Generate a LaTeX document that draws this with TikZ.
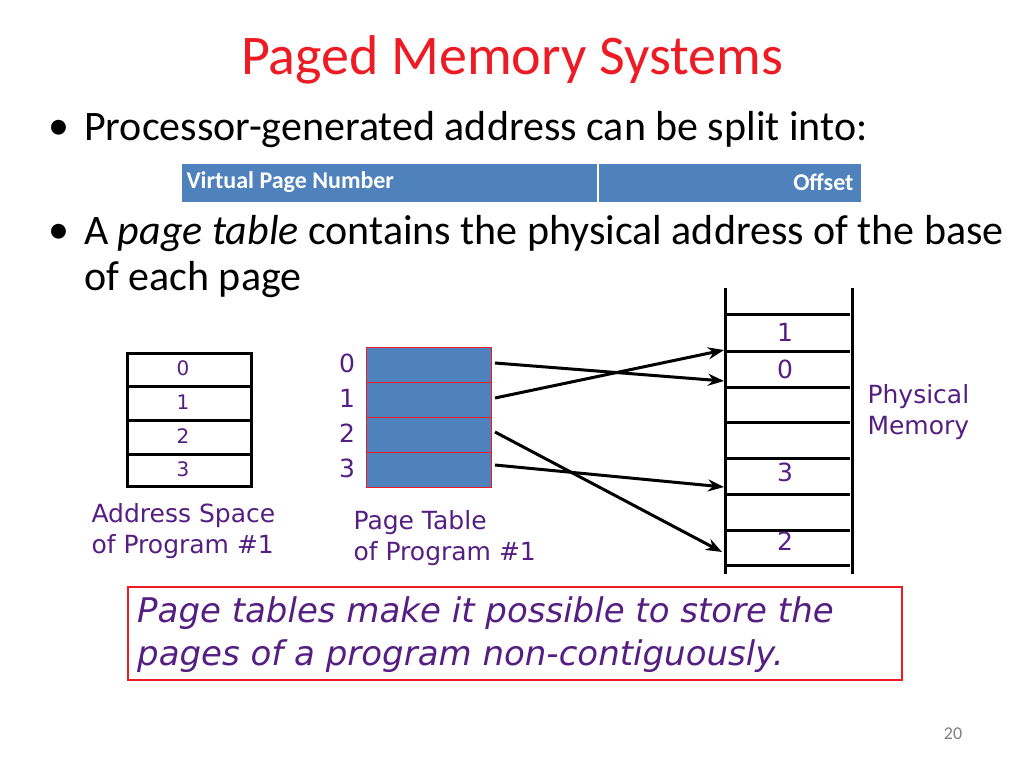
\documentclass[tikz,border=0pt]{standalone}
\usepackage{fontspec}
\setmainfont{Carlito}
\newfontfamily\vd{DejaVu Sans}
\usetikzlibrary{arrows.meta}
\definecolor{tred}{RGB}{237,28,36}
\definecolor{pur}{RGB}{85,30,130}
\definecolor{bblue}{RGB}{79,129,189}
\begin{document}
\begin{tikzpicture}[x=1pt,y=-1pt,
 lbl/.style={font=\vd\fontsize{25}{30}\selectfont,text=pur},
 slbl/.style={font=\vd\fontsize{20}{24}\selectfont,text=pur},
 ml/.style={line width=3pt},
 arr/.style={line width=3pt,-{Stealth[length=16pt,width=12pt]}}]
\useasboundingbox (0,0) rectangle (1024,768);
\node[text=tred,font=\fontsize{56}{60}\selectfont] (title) at (512,60) {Paged Memory Systems};
\node[anchor=west,font=\fontsize{42}{48}\selectfont] (b1) at (45,130) {•};
\node[anchor=west,font=\fontsize{42}{48}\selectfont,inner sep=0] (b1t) at (84,130) {Processor-generated address can be split into:};
\node[draw=white,line width=1.5pt,fill=bblue,minimum width=417,minimum height=40,inner sep=0,anchor=north west] (vpn) at (180,162) {};
\node[anchor=west,font=\bfseries\fontsize{24}{28}\selectfont,text=white] (vpnt) at (183,182) {Virtual Page Number};
\node[draw=white,line width=1.5pt,fill=bblue,minimum width=264,minimum height=40,inner sep=0,anchor=north west] (off) at (597,162) {};
\node[anchor=east,font=\bfseries\fontsize{24}{28}\selectfont,text=white] (offt) at (857,182) {Offset};
\node[anchor=west,font=\fontsize{42}{48}\selectfont] (b2) at (45,234) {•};
\node[anchor=west,font=\fontsize{42}{48}\selectfont,inner sep=0] (b2t) at (84,234) {A \textit{page table} contains the physical address of the base};
\node[anchor=west,font=\fontsize{42}{48}\selectfont,inner sep=0] (b2b) at (84,280) {of each page};
% address space
\foreach \i/\a/\b in {0/352/385,1/385/419,2/419/453,3/453/485}{
 \node[draw,line width=3pt,minimum width=124,minimum height=\b-\a,inner sep=0,anchor=north west] (as\i) at (126,\a) {};
 \node[slbl] (asl\i) at (183,{(\a+\b)/2}) {\i};}
\node[lbl,align=left,anchor=north west,font=\vd\fontsize{25}{31}\selectfont] (asn) at (88,500) {Address Space\\of Program \#1};
% page table
\foreach \i/\a in {0/347,1/382,2/417,3/452}{
 \node[draw=tred,line width=1.2pt,fill=bblue,minimum width=125,minimum height=35,inner sep=0,anchor=north west] (pt\i) at (366,\a) {};
 \node[lbl] (ptl\i) at (347,\a+16) {\i};}
\node[lbl,align=left,anchor=north west,font=\vd\fontsize{25}{31}\selectfont] (ptn) at (350,507) {Page Table\\of Program \#1};
% physical memory
\draw[ml] (725,288) -- (725,574) (852,288) -- (852,574);
\foreach \y in {314,351,387,422,458,494,530,565}{\draw[ml] (727,\y) -- (850,\y);}
\node[lbl] (p1) at (785,332) {1};
\node[lbl] (p0) at (785,369) {0};
\node[lbl] (p3) at (785,472) {3};
\node[lbl] (p2) at (785,541) {2};
\coordinate (s0) at (495,363);
\coordinate (s1) at (495,398);
\coordinate (s2) at (495,432);
\coordinate (s3) at (495,465);
\coordinate (m0) at (724,381);
\coordinate (m1) at (724,350);
\coordinate (m2) at (722,552);
\coordinate (m3) at (724,487);
\node[lbl,align=left,anchor=west,font=\vd\fontsize{25}{31}\selectfont] (pm) at (864,412) {Physical\\Memory};
\draw[arr] (s0) -- (m0);
\draw[arr] (s1) -- (m1);
\draw[arr] (s2) -- (m2);
\draw[arr] (s3) -- (m3);
% note
\node[draw=tred,line width=1.5pt,minimum width=774,minimum height=93,anchor=north west,inner sep=0] (nb) at (127,586) {};
\node[anchor=north west,align=left,font=\vd\itshape\fontsize{34}{43}\selectfont,text=pur,inner sep=0] (nt) at (137,596) {Page tables make it possible to store the\\pages of a program non-contiguously.};
\node[font=\fontsize{18}{20}\selectfont,text=gray] (pg) at (953,734) {20};
\end{tikzpicture}
\end{document}
